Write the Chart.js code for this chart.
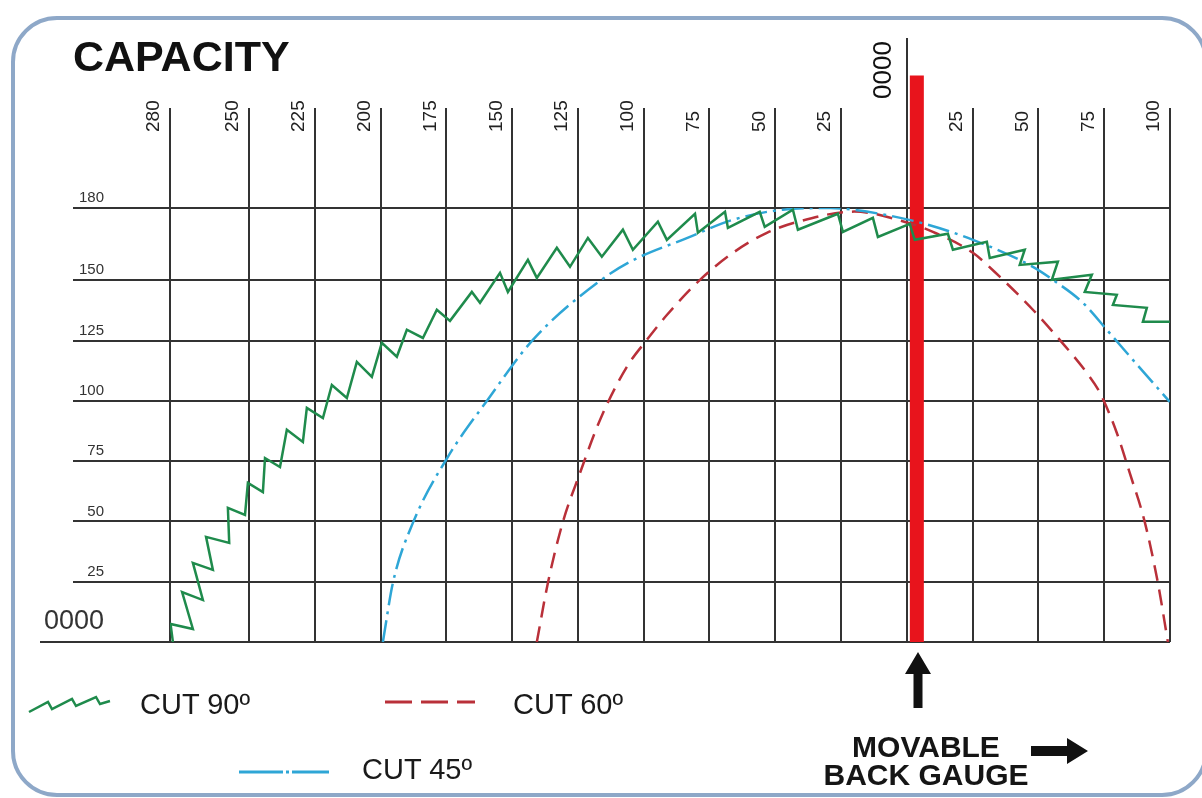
<!DOCTYPE html>
<html>
<head>
<meta charset="utf-8">
<script src="https://cdn.jsdelivr.net/npm/chart.js@4.4.1/dist/chart.umd.min.js"></script>
<style>
  html, body { margin: 0; padding: 0; background: #fff; }
  #wrap { position: relative; width: 1202px; height: 798px; overflow: hidden; font-family: 'Liberation Sans', Arial, sans-serif; color: #1a1a1a; }
  #frame { position: absolute; left: 11px; top: 16px; width: 1197px; height: 781px; box-sizing: border-box; border: 4px solid #8ea8c8; border-radius: 46px; }
  #chart { position: absolute; left: 0; top: 0; }
  #title { position: absolute; left: 73px; top: 35px; font-size: 43px; line-height: 43px; font-weight: bold; color: #111; }
  .lbl { position: absolute; font-size: 29px; line-height: 29px; white-space: nowrap; }
  .gauge { position: absolute; left: 776px; top: 733px; width: 300px; font-weight: bold; font-size: 30px; line-height: 28px; text-align: center; color: #151515; }
  svg { position: absolute; overflow: visible; }
</style>
</head>
<body>
<div id="wrap">
  <div id="frame"></div>
  <canvas id="chart" width="1202" height="798"></canvas>
  <div id="title">CAPACITY</div>

  <svg style="left:26px;top:693px" width="90" height="24">
    <polyline points="3,19 22,9 26,16 46,6 50,13 70,4 74,11 84,8" fill="none" stroke="#1f8b4c" stroke-width="2.5"/>
  </svg>
  <div class="lbl" style="left:140px;top:690px">CUT 90º</div>

  <svg style="left:385px;top:692px" width="92" height="20">
    <line x1="0" y1="10" x2="90" y2="10" stroke="#b93039" stroke-width="3" stroke-dasharray="27,9"/>
  </svg>
  <div class="lbl" style="left:513px;top:690px">CUT 60º</div>

  <svg style="left:239px;top:762px" width="92" height="20">
    <line x1="0" y1="10" x2="90" y2="10" stroke="#2ea6d6" stroke-width="3" stroke-dasharray="44,3,3,3,40"/>
  </svg>
  <div class="lbl" style="left:362px;top:755px">CUT 45º</div>

  <svg style="left:903px;top:651px" width="30" height="60">
    <polygon points="15,1 28,23 19.5,23 19.5,57 10.5,57 10.5,23 2,23" fill="#111"/>
  </svg>
  <div class="gauge">MOVABLE<br>BACK GAUGE</div>
  <svg style="left:1031px;top:737px" width="60" height="28">
    <polygon points="0,9 36,9 36,1 57,14 36,27 36,19 0,19" fill="#111"/>
  </svg>
</div>

<script>
// tick values
const xTicks = [-280, -250, -225, -200, -175, -150, -125, -100, -75, -50, -25, 0, 25, 50, 75, 100];
const yTicks = [0, 25, 50, 75, 100, 125, 150, 180];

// CUT 90º, sawtooth outline (left of blade is negative)
const cut90X = [-278.9, -279.8, -271.3, -275.4, -267.5, -271.3, -263.7, -266.3, -257.5, -258.0,
  -251.5, -250.4, -244.7, -243.9, -238.2, -235.6, -229.5, -228.0, -221.9, -218.5,
  -212.8, -209.0, -203.3, -199.5, -193.8, -190.0, -183.9, -178.6, -173.6, -165.3,
  -162.2, -154.6, -151.6, -144.0, -140.6, -133.0, -128.0, -121.2, -115.9, -107.9,
  -104.1, -94.6, -91.2, -80.5, -79.4, -69.1, -68.0, -55.9, -54.0, -43.3,
  -41.4, -26.2, -24.3, -12.9, -11.0, 1.1, 3.0, 15.6, 17.5, 30.4,
  31.5, 44.8, 42.9, 57.4, 55.1, 70.3, 67.6, 79.8, 78.3, 91.2,
  89.7, 99.9];
const cut90Y = [0, 7.5, 5.4, 20.7, 17.4, 32.8, 29.9, 43.6, 41.1, 55.6,
  52.7, 66.0, 62.2, 76.3, 72.6, 88.0, 83.0, 97.1, 92.9, 106.6,
  101.2, 116.2, 110.0, 124.1, 118.3, 129.5, 126.1, 137.8, 133.2, 145.2,
  140.7, 153.1, 145.2, 158.5, 151.0, 163.5, 155.6, 167.6, 159.8, 171.0,
  162.7, 174.3, 166.8, 177.6, 169.7, 178.4, 171.8, 178.4, 172.2, 179.3,
  171.0, 177.6, 170.1, 175.9, 168.0, 173.4, 166.8, 169.3, 162.7, 166.0,
  159.3, 162.7, 156.4, 157.7, 150.2, 152.3, 145.2, 144.0, 139.8, 138.6,
  132.8, 132.8];

// CUT 45º
const cut45X = [-199.1, -195.3, -187.7, -174.4, -159.6, -142.1, -116.6, -104.1, -83.6, -66.1,
  -47.1, -29.0, -20.5, 3.8, 25.1, 47.9, 55.5, 66.9, 76.0, 85.9, 99.9];
const cut45Y = [0, 24.5, 49.4, 76.8, 100, 125.3, 149.8, 158.3, 167.5, 175.1,
  179.3, 180, 179.3, 174.3, 166.8, 155.6, 150.2, 140.7, 129.5, 117.0, 99.6];

// CUT 60º
const cut60X = [-140.6, -136.4, -130.7, -124.2, -116.6, -106.4, -98.8, -91.2, -78.6, -66.1,
  -53.2, -40.7, -20.0, 0, 9.9, 25.1, 35.3, 47.9, 58.1, 68.4,
  73.3, 79.8, 84.7, 90.4, 95.4, 99.2];
const cut60Y = [0, 24.5, 49.8, 70.1, 92.1, 114.1, 125.3, 135.6, 150.2, 161.4,
  169.7, 174.5, 178.5, 174.0, 170.1, 161.4, 151.5, 137.8, 125.3, 111.6,
  103.5, 86.7, 70.1, 49.8, 24.5, 0];

// saw blade (red bar)
const bladeX = 3.8;
const bladeY = [0, 235];

const zip = (xs, ys) => xs.map((x, i) => ({x: x, y: ys[i]}));

const gridColor = '#333';
Chart.defaults.font.family = "'Liberation Sans', Arial, sans-serif";

const isZero = ctx => ctx.tick && ctx.tick.value === 0;

new Chart(document.getElementById('chart'), {
  type: 'line',
  data: {
    datasets: [
      {
        label: 'CUT 90º',
        data: zip(cut90X, cut90Y),
        borderColor: '#1f8b4c',
        borderWidth: 2.5,
        pointRadius: 0,
        tension: 0,
        order: 1
      },
      {
        label: 'CUT 45º',
        data: zip(cut45X, cut45Y),
        borderColor: '#2ea6d6',
        borderWidth: 2.5,
        borderDash: [22, 6, 3, 6],
        pointRadius: 0,
        cubicInterpolationMode: 'monotone',
        order: 2
      },
      {
        label: 'CUT 60º',
        data: zip(cut60X, cut60Y),
        borderColor: '#b93039',
        borderWidth: 2.5,
        borderDash: [16, 9],
        pointRadius: 0,
        cubicInterpolationMode: 'monotone',
        order: 3
      },
      {
        label: 'blade',
        data: bladeY.map(y => ({x: bladeX, y: y})),
        borderColor: '#e8141c',
        borderWidth: 14,
        borderCapStyle: 'butt',
        pointRadius: 0,
        clip: false,
        order: 10
      }
    ]
  },
  options: {
    responsive: false,
    devicePixelRatio: 1,
    animation: false,
    events: [],
    layout: { padding: { left: 40, right: 32, top: 32, bottom: 156 } },
    plugins: {
      legend: { display: false },
      tooltip: { enabled: false }
    },
    scales: {
      x: {
        type: 'linear',
        position: 'top',
        min: -280,
        max: 100,
        afterBuildTicks: s => { s.ticks = xTicks.map(v => ({value: v})); },
        afterFit: s => { s.height = 109; },
        grid: {
          color: gridColor,
          lineWidth: 2,
          tickLength: 170,
          tickColor: gridColor,
          tickWidth: 2,
          // only the zero line runs all the way up
          tickBorderDash: ctx => isZero(ctx) ? [] : [0, 70, 100, 10]
        },
        border: { display: false },
        ticks: {
          autoSkip: false,
          maxRotation: 90,
          minRotation: 90,
          padding: -94,
          labelOffset: 7,
          color: '#222',
          font: { size: 19 },
          callback: v => v === 0 ? '' : String(Math.abs(v))
        }
      },
      x2: {
        type: 'linear',
        position: 'top',
        weight: 1,
        min: -280,
        max: 100,
        afterBuildTicks: s => { s.ticks = [{value: 0}]; },
        afterFit: s => { s.height = 67; },
        grid: { display: false },
        border: { display: false },
        ticks: {
          autoSkip: false,
          maxRotation: 90,
          minRotation: 90,
          padding: -8,
          labelOffset: 8,
          color: '#111',
          font: { size: 26 },
          callback: () => '0000'
        }
      },
      y: {
        min: 0,
        max: 180,
        afterBuildTicks: s => { s.ticks = yTicks.map(v => ({value: v})); },
        afterFit: s => { s.width = 130; },
        grid: {
          color: gridColor,
          lineWidth: 2,
          tickLength: 130,
          tickColor: gridColor,
          tickWidth: 2,
          // only the zero line runs out under the big label
          tickBorderDash: ctx => isZero(ctx) ? [] : [0, 33, 97, 10]
        },
        border: { display: false },
        ticks: {
          padding: -64,
          labelOffset: -10,
          color: '#333',
          font: ctx => isZero(ctx) ? { size: 27, lineHeight: 0.8 } : { size: 15 },
          callback: v => v === 0 ? ['0000', ''] : String(v)
        }
      }
    }
  }
});
</script>
</body>
</html>
